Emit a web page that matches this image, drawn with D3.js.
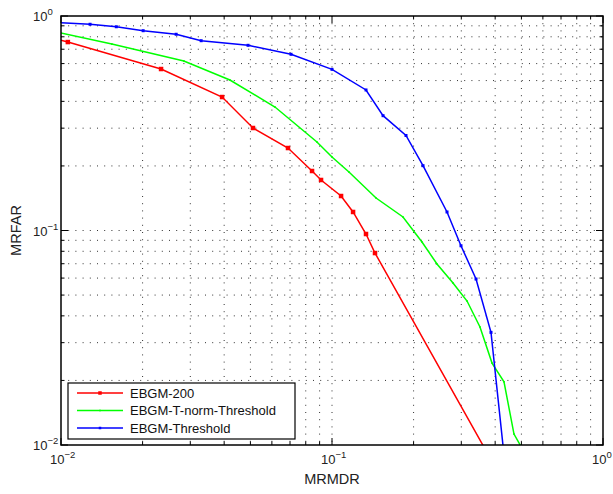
<!DOCTYPE html>
<html>
<head>
<meta charset="utf-8">
<script src="https://cdn.jsdelivr.net/npm/d3@7"></script>
<style>
  body { margin: 0; background: #fff; }
  text { font-family: "Liberation Sans", Arial, sans-serif; }
</style>
</head>
<body>
<div id="chart"></div>
<script>
// series names (legend order)
var seriesNames = ["EBGM-200", "EBGM-T-norm-Threshold", "EBGM-Threshold"];

// MRMDR (x) / MRFAR (y)
var ebgm200X = [0.009, 0.0106, 0.0234, 0.0393, 0.0511, 0.0688, 0.0844, 0.0911, 0.108, 0.1196, 0.1335, 0.1441, 0.49];
var ebgm200Y = [0.80, 0.756, 0.566, 0.419, 0.3005, 0.2424, 0.1894, 0.172, 0.1448, 0.122, 0.0963, 0.0785, 0.005];

var tnormX = [0.009, 0.0154, 0.0284, 0.042, 0.0616, 0.088, 0.1, 0.1155, 0.1454, 0.1828, 0.2148, 0.244, 0.2796, 0.315, 0.3516, 0.3895, 0.4312, 0.4694, 0.511];
var tnormY = [0.858, 0.740, 0.617, 0.503, 0.3764, 0.2586, 0.2202, 0.1874, 0.1417, 0.1156, 0.0884, 0.0698, 0.0569, 0.0469, 0.0355, 0.0241, 0.0197, 0.01125, 0.0093];

var threshX = [0.009, 0.0128, 0.016, 0.0201, 0.0266, 0.0329, 0.049, 0.0706, 0.1, 0.1335, 0.1543, 0.1875, 0.2167, 0.2657, 0.2992, 0.34, 0.3861, 0.4312];
var threshY = [0.938, 0.915, 0.891, 0.854, 0.822, 0.767, 0.730, 0.663, 0.564, 0.452, 0.343, 0.2773, 0.2005, 0.122, 0.0849, 0.0594, 0.0335, 0.009];

var colors = ["#ff0000", "#00ff00", "#0000ff"];
var markerSize = [4.5, 1.6, 3];

var width = 613, height = 494;
var margin = { top: 16, right: 10, bottom: 49, left: 61 };
var pw = width - margin.left - margin.right,
    ph = height - margin.top - margin.bottom;

var svg = d3.select("#chart")
  .append("svg")
  .attr("width", width)
  .attr("height", height);

var g = svg.append("g")
  .attr("transform", "translate(" + margin.left + "," + margin.top + ")");

var x = d3.scaleLog().domain([0.01, 1]).range([0, pw]);
var y = d3.scaleLog().domain([0.01, 1]).range([ph, 0]);

var xt = x.ticks(), yt = y.ticks();
var majors = [0.01, 0.1, 1];
function isMajor(v) { return majors.some(function(m) { return Math.abs(v / m - 1) < 1e-6; }); }

// dotted grid on every tick (major + minor)
g.append("g").selectAll("line")
  .data(xt.filter(function(d) { return d > 0.0100001 && d < 0.99999; }))
  .enter().append("line")
  .attr("x1", function(d) { return x(d); }).attr("x2", function(d) { return x(d); })
  .attr("y1", 0).attr("y2", ph)
  .attr("stroke", "#333").attr("stroke-width", 1)
  .attr("stroke-dasharray", "1,6.2");

g.append("g").selectAll("line")
  .data(yt.filter(function(d) { return d > 0.0100001 && d < 0.99999; }))
  .enter().append("line")
  .attr("y1", function(d) { return y(d); }).attr("y2", function(d) { return y(d); })
  .attr("x1", 0).attr("x2", pw)
  .attr("stroke", "#333").attr("stroke-width", 1)
  .attr("stroke-dasharray", "1,6.2");

// inward ticks on all four sides
var ticks = g.append("g").attr("stroke", "#000").attr("stroke-width", 1);
xt.forEach(function(d) {
  var len = isMajor(d) ? 7 : 3.5;
  ticks.append("line").attr("x1", x(d)).attr("x2", x(d)).attr("y1", ph).attr("y2", ph - len);
  ticks.append("line").attr("x1", x(d)).attr("x2", x(d)).attr("y1", 0).attr("y2", len);
});
yt.forEach(function(d) {
  var len = isMajor(d) ? 7 : 3.5;
  ticks.append("line").attr("y1", y(d)).attr("y2", y(d)).attr("x1", 0).attr("x2", len);
  ticks.append("line").attr("y1", y(d)).attr("y2", y(d)).attr("x1", pw).attr("x2", pw - len);
});

// tick labels 10^n
function powLabel(sel, exp) {
  sel.append("tspan").text("10");
  sel.append("tspan").attr("dy", -6).attr("font-size", "9.5px").text(exp);
}
majors.forEach(function(d) {
  var e = String(Math.round(Math.log10(d))).replace("-", "\u2212");
  var tx = g.append("text")
    .attr("x", x(d) - 11).attr("y", ph + 19)
    .attr("font-size", "13px").attr("fill", "#222");
  powLabel(tx, e);
  var ty = g.append("text")
    .attr("x", -28).attr("y", y(d) + 5)
    .attr("font-size", "13px").attr("fill", "#222");
  powLabel(ty, e);
});

// axis titles
svg.append("text")
  .attr("x", margin.left + pw / 2).attr("y", 484)
  .attr("text-anchor", "middle").attr("font-size", "14.5px").attr("fill", "#222")
  .text("MRMDR");
svg.append("text")
  .attr("transform", "translate(21," + (margin.top + ph / 2) + ") rotate(-90)")
  .attr("text-anchor", "middle").attr("font-size", "14.5px").attr("fill", "#222")
  .text("MRFAR");

// clip to plotting area
svg.append("defs").append("clipPath").attr("id", "clip")
  .append("rect").attr("width", pw).attr("height", ph);

var plot = g.append("g").attr("clip-path", "url(#clip)");

var allX = [ebgm200X, tnormX, threshX];
var allY = [ebgm200Y, tnormY, threshY];

var line = d3.line()
  .x(function(d) { return x(d[0]); })
  .y(function(d) { return y(d[1]); });

allX.forEach(function(xs, i) {
  var pts = xs.map(function(v, j) { return [v, allY[i][j]]; });
  plot.append("path")
    .datum(pts)
    .attr("fill", "none")
    .attr("stroke", colors[i])
    .attr("stroke-width", 1.5)
    .attr("d", line);
  var s = markerSize[i];
  plot.selectAll(null)
    .data(pts)
    .enter().append("rect")
    .attr("x", function(d) { return x(d[0]) - s / 2; })
    .attr("y", function(d) { return y(d[1]) - s / 2; })
    .attr("width", s).attr("height", s)
    .attr("fill", colors[i]);
});

// frame
g.append("rect")
  .attr("width", pw).attr("height", ph)
  .attr("fill", "none").attr("stroke", "#000").attr("stroke-width", 1.5);

// legend
var lg = svg.append("g").attr("transform", "translate(68,383)");
lg.append("rect")
  .attr("width", 227).attr("height", 56)
  .attr("fill", "#fff").attr("stroke", "#000").attr("stroke-width", 1.2);
seriesNames.forEach(function(name, i) {
  var yy = 10 + i * 17.5;
  lg.append("line")
    .attr("x1", 9).attr("x2", 55).attr("y1", yy).attr("y2", yy)
    .attr("stroke", colors[i]).attr("stroke-width", 1.5);
  var s = [3.5, 1.6, 2.5][i];
  lg.append("rect")
    .attr("x", 32 - s / 2).attr("y", yy - s / 2)
    .attr("width", s).attr("height", s).attr("fill", colors[i]);
  lg.append("text")
    .attr("x", 62).attr("y", yy + 4.5)
    .attr("font-size", "13px").attr("fill", "#111")
    .text(name);
});
</script>
</body>
</html>
